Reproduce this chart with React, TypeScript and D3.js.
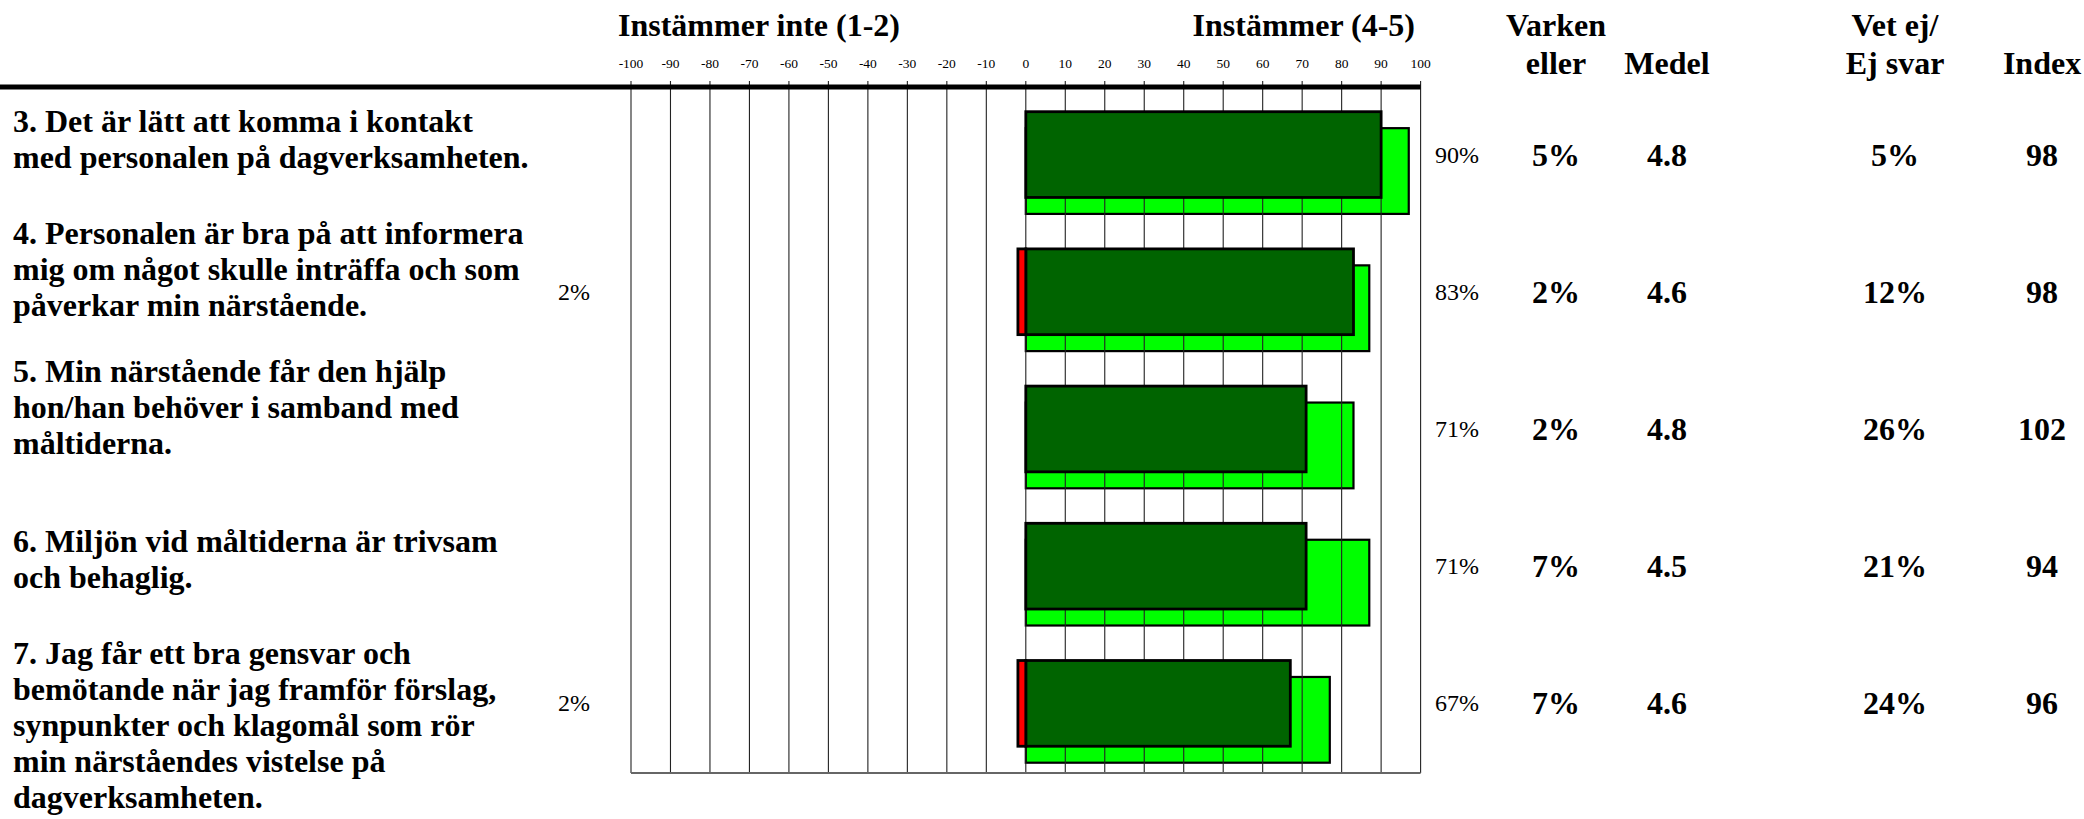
import * as d3 from 'd3'

// questions, one entry per row, already split into the lines shown in the report
const questions: string[][] = [
  ['3. Det är lätt att komma i kontakt', 'med personalen på dagverksamheten.'],
  ['4. Personalen är bra på att informera', 'mig om något skulle inträffa och som', 'påverkar min närstående.'],
  ['5. Min närstående får den hjälp', 'hon/han behöver i samband med', 'måltiderna.'],
  ['6. Miljön vid måltiderna är trivsam', 'och behaglig.'],
  [
    '7. Jag får ett bra gensvar och',
    'bemötande när jag framför förslag,',
    'synpunkter och klagomål som rör',
    'min närståendes vistelse på',
    'dagverksamheten.',
  ],
]
const disagree = [0, 2, 0, 0, 2]
const agree = [90, 83, 71, 71, 67]
const comparison = [97, 87, 83, 87, 77]
const neutral = [5, 2, 2, 7, 7]
const mean = [4.8, 4.6, 4.8, 4.5, 4.6]
const dontKnow = [5, 12, 26, 21, 24]
const indexValues = [98, 98, 102, 94, 96]
const tickValues = [-100, -90, -80, -70, -60, -50, -40, -30, -20, -10, 0, 10, 20, 30, 40, 50, 60, 70, 80, 90, 100]

// first baseline of each question block
const labelTop = [132, 244, 382, 552, 664]

const width = 2084
const height = 819
const plotTop = 87
const plotBottom = 773
const lineHeight = 36
const font = '"Liberation Serif", "Times New Roman", serif'

export default function App() {
  const rows = questions.map((q, i) => i)
  const x = d3.scaleLinear([-100, 100], [631, 1420.6])
  const y = d3.scaleBand<number>(rows, [plotTop, plotBottom]).paddingInner(0)
  const bw = y.bandwidth()
  const darkY = (i: number) => (y(i) as number) + bw * 0.18
  const lightY = (i: number) => (y(i) as number) + bw * 0.3
  const barH = bw * 0.625
  const midY = (i: number) => darkY(i) + barH / 2

  const columns = [
    { cx: 1556, head: ['Varken', 'eller'], values: neutral.map((v) => `${v}%`) },
    { cx: 1667, head: ['', 'Medel'], values: mean.map((v) => d3.format('.1f')(v)) },
    { cx: 1895, head: ['Vet ej/', 'Ej svar'], values: dontKnow.map((v) => `${v}%`) },
    { cx: 2042, head: ['', 'Index'], values: indexValues.map((v) => String(v)) },
  ]

  return (
    <svg
      width={width}
      height={height}
      viewBox={`0 0 ${width} ${height}`}
      style={{ position: 'absolute', left: 0, top: 0, background: '#fff' }}
      fontFamily={font}
    >
      <rect width={width} height={height} fill="#fff" />

      {/* headers */}
      <g fontWeight="bold" fontSize={32} fill="#000">
        <text x={618} y={36}>Instämmer inte (1-2)</text>
        <text x={1415} y={36} textAnchor="end">Instämmer (4-5)</text>
        {columns.map((c) => (
          <g key={c.cx} textAnchor="middle">
            <text x={c.cx} y={36}>{c.head[0]}</text>
            <text x={c.cx} y={74}>{c.head[1]}</text>
          </g>
        ))}
      </g>

      {/* tick labels */}
      <g fontSize={13.5} textAnchor="middle" fill="#000">
        {tickValues.map((t) => (
          <text key={t} x={x(t)} y={68}>{t}</text>
        ))}
      </g>

      {/* comparison bars behind grid */}
      <g fill="#00ff00" stroke="#000" strokeWidth={2.2}>
        {comparison.map((v, i) => (
          <rect key={i} x={x(0)} y={lightY(i)} width={x(v) - x(0)} height={barH} />
        ))}
      </g>

      {/* grid */}
      <g stroke="#222" strokeWidth={1.1}>
        {tickValues.map((t) => (
          <line key={t} x1={x(t)} x2={x(t)} y1={81} y2={plotBottom} />
        ))}
        <line x1={x(-100)} x2={x(100)} y1={plotBottom} y2={plotBottom} stroke="#666" strokeWidth={2} />
      </g>
      <line x1={0} x2={x(100)} y1={plotTop} y2={plotTop} stroke="#000" strokeWidth={5} />

      {/* agree / disagree bars */}
      <g stroke="#000" strokeWidth={2.8}>
        {agree.map((v, i) => (
          <rect key={i} x={x(0)} y={darkY(i)} width={x(v) - x(0)} height={barH} fill="#006400" />
        ))}
        {disagree.map((v, i) =>
          v > 0 ? (
            <rect key={i} x={x(-v)} y={darkY(i)} width={x(0) - x(-v)} height={barH} fill="#ff0000" />
          ) : null,
        )}
      </g>

      {/* percentage labels */}
      <g fontSize={24} fill="#000" dominantBaseline="central">
        {agree.map((v, i) => (
          <text key={i} x={1435} y={midY(i)}>{v}%</text>
        ))}
        {disagree.map((v, i) =>
          v > 0 ? (
            <text key={i} x={590} y={midY(i)} textAnchor="end">{v}%</text>
          ) : null,
        )}
      </g>

      {/* value columns */}
      <g fontSize={32} fontWeight="bold" fill="#000" textAnchor="middle" dominantBaseline="central">
        {columns.map((c) =>
          c.values.map((v, i) => (
            <text key={`${c.cx}-${i}`} x={c.cx} y={midY(i)}>{v}</text>
          )),
        )}
      </g>

      {/* question text */}
      <g fontSize={32} fontWeight="bold" fill="#000">
        {questions.map((lines, i) => (
          <text key={i} x={13} y={labelTop[i]}>
            {lines.map((l, j) => (
              <tspan key={j} x={13} y={labelTop[i] + j * lineHeight}>{l}</tspan>
            ))}
          </text>
        ))}
      </g>
    </svg>
  )
}
